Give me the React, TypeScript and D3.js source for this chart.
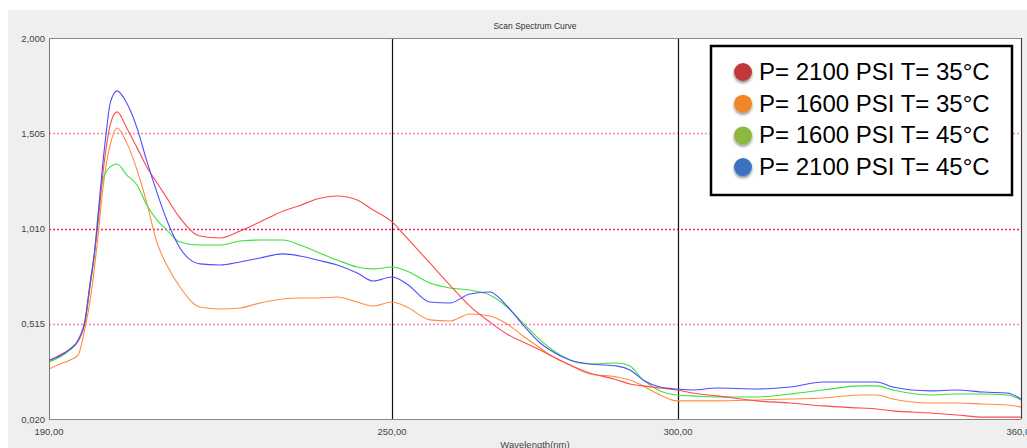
import React from "react";
import * as d3 from "d3";

const wavelengths = [190.0, 191.9, 193.7, 195.1, 196.3, 197.2, 197.9, 198.6, 199.3, 200.0, 200.7, 201.9, 203.6, 205.4, 207.1, 208.9, 210.6, 212.9, 216.4, 219.9, 223.4, 226.9, 230.9, 233.9, 236.9, 240.4, 243.9, 246.7, 250.0, 252.6, 256.6, 260.1, 263.6, 267.1, 270.1, 272.9, 275.9, 277.6, 281.1, 284.6, 289.4, 291.6, 293.9, 296.9, 299.8, 302.6, 306.8, 313.8, 319.6, 325.4, 331.9, 334.8, 337.6, 344.1, 348.8, 353.4, 357.6, 360.0];

const red35_2100 = [0.321, 0.353, 0.384, 0.425, 0.524, 0.716, 0.872, 1.044, 1.262, 1.429, 1.548, 1.616, 1.532, 1.429, 1.330, 1.247, 1.169, 1.065, 0.971, 0.961, 0.997, 1.044, 1.100, 1.130, 1.163, 1.179, 1.158, 1.106, 1.044, 0.961, 0.831, 0.716, 0.607, 0.524, 0.462, 0.420, 0.379, 0.353, 0.301, 0.259, 0.223, 0.202, 0.192, 0.181, 0.171, 0.155, 0.140, 0.114, 0.103, 0.088, 0.077, 0.072, 0.062, 0.051, 0.041, 0.030, 0.030, 0.030];

const orange35_1600 = [0.280, 0.306, 0.327, 0.353, 0.493, 0.638, 0.794, 0.976, 1.184, 1.340, 1.444, 1.532, 1.455, 1.314, 1.143, 0.935, 0.820, 0.706, 0.602, 0.592, 0.597, 0.623, 0.644, 0.649, 0.649, 0.654, 0.628, 0.607, 0.628, 0.602, 0.535, 0.529, 0.566, 0.555, 0.514, 0.451, 0.389, 0.353, 0.301, 0.254, 0.238, 0.223, 0.192, 0.145, 0.114, 0.114, 0.114, 0.119, 0.124, 0.129, 0.145, 0.145, 0.124, 0.103, 0.103, 0.098, 0.093, 0.082];

const green45_1600 = [0.316, 0.342, 0.379, 0.425, 0.524, 0.716, 0.857, 1.091, 1.247, 1.304, 1.330, 1.345, 1.288, 1.236, 1.132, 1.054, 1.002, 0.940, 0.924, 0.924, 0.945, 0.950, 0.950, 0.924, 0.888, 0.846, 0.810, 0.800, 0.810, 0.789, 0.727, 0.701, 0.690, 0.664, 0.602, 0.519, 0.431, 0.389, 0.327, 0.306, 0.311, 0.295, 0.223, 0.166, 0.145, 0.140, 0.134, 0.134, 0.150, 0.171, 0.192, 0.192, 0.171, 0.145, 0.150, 0.150, 0.145, 0.119];

const blue45_2100 = [0.327, 0.347, 0.384, 0.431, 0.535, 0.732, 0.872, 1.080, 1.314, 1.506, 1.662, 1.725, 1.662, 1.532, 1.361, 1.195, 1.054, 0.909, 0.826, 0.820, 0.836, 0.857, 0.878, 0.867, 0.846, 0.820, 0.779, 0.737, 0.758, 0.722, 0.628, 0.623, 0.670, 0.680, 0.607, 0.509, 0.415, 0.379, 0.327, 0.306, 0.295, 0.275, 0.223, 0.186, 0.176, 0.171, 0.181, 0.176, 0.186, 0.212, 0.212, 0.212, 0.186, 0.166, 0.171, 0.160, 0.155, 0.124];

const seriesNames = ["P= 2100 PSI T= 35°C", "P= 1600 PSI T= 35°C", "P= 1600 PSI T= 45°C", "P= 2100 PSI T= 45°C"];
const lineColors = ["#ff4a4a", "#ff8c42", "#3de03d", "#4d4dff"];
const dotColors = ["#c0393b", "#f0862a", "#8cb83e", "#3a72c0"];

const xTicks = [190, 250, 300, 360];
const xTickLabels = ["190,00", "250,00", "300,00", "360,00"];
const yTicks = [0.02, 0.515, 1.01, 1.505, 2.0];
const yTickLabels = ["0,020", "0,515", "1,010", "1,505", "2,000"];

export default function App() {
  const W = 1027, H = 448;
  const left = 49, right = 1021, top = 38, bottom = 419;
  const x = d3.scaleLinear().domain([190, 360]).range([left, right]);
  const y = d3.scaleLinear().domain([0.02, 2.0]).range([bottom, top]);
  const allSeries = [red35_2100, orange35_1600, green45_1600, blue45_2100];
  const line = d3.line<number>()
    .x((_, i) => x(wavelengths[i]))
    .y((d) => y(d))
    .curve(d3.curveMonotoneX);
  const drawOrder = [1, 2, 0, 3];
  const font = "'Liberation Sans', Arial, sans-serif";

  return (
    <svg width={W} height={H} style={{ position: "absolute", left: 0, top: 0, display: "block" }} fontFamily={font}>
      <rect x={0} y={0} width={W} height={H} fill="#ffffff" />
      <rect x={8} y={10} width={W - 8} height={H - 10} fill="#efefef" />
      <text x={535} y={29} textAnchor="middle" fontSize={8.5} fill="#333">Scan Spectrum Curve</text>
      <rect x={left} y={top} width={right - left} height={bottom - top} fill="#ffffff" />
      {/* horizontal dotted gridlines */}
      {[1.505, 0.515].map((v) => (
        <line key={v} x1={left} x2={right} y1={Math.round(y(v)) + 0.5} y2={Math.round(y(v)) + 0.5} stroke="#ff7fc0" strokeWidth={1.3} strokeDasharray="2,2" />
      ))}
      <line x1={left} x2={right} y1={Math.round(y(1.01)) + 0.5} y2={Math.round(y(1.01)) + 0.5} stroke="#e3206f" strokeWidth={1.3} strokeDasharray="2,2" />
      {/* vertical gridlines */}
      {[250, 300].map((v) => (
        <line key={v} x1={Math.round(x(v)) + 0.5} x2={Math.round(x(v)) + 0.5} y1={top} y2={bottom} stroke="#111" strokeWidth={1.2} />
      ))}
      {drawOrder.map((si) => (
        <path key={si} d={line(allSeries[si]) || ""} fill="none" stroke={lineColors[si]} strokeWidth={1.1} />
      ))}
      {/* frame */}
      <line x1={left + 0.5} x2={left + 0.5} y1={top} y2={bottom} stroke="#777" />
      <line x1={left} x2={right} y1={top + 0.5} y2={top + 0.5} stroke="#888" />
      <line x1={left} x2={right} y1={bottom + 0.5} y2={bottom + 0.5} stroke="#888" />
      <line x1={right + 0.5} x2={right + 0.5} y1={top} y2={bottom} stroke="#444" strokeWidth={1.2} />
      {/* y tick labels */}
      {yTicks.map((v, i) => (
        <text key={v} x={45} y={y(v) + 3.5} textAnchor="end" fontSize={9.5} fill="#444">{yTickLabels[i]}</text>
      ))}
      {/* x tick labels */}
      {xTicks.map((v, i) => (
        <text key={v} x={x(v)} y={435} textAnchor="middle" fontSize={9.5} fill="#444">{xTickLabels[i]}</text>
      ))}
      <text x={535} y={448} textAnchor="middle" fontSize={9.5} fill="#444">Wavelength(nm)</text>
      {/* legend */}
      <defs>
        <filter id="sh" x="-50%" y="-50%" width="200%" height="200%">
          <feDropShadow dx={0} dy={2} stdDeviation={1.5} floodColor="#000" floodOpacity={0.45} />
        </filter>
      </defs>
      <rect x={711} y={46} width={301} height={149} fill="#ffffff" stroke="#000" strokeWidth={2.5} />
      {seriesNames.map((name, i) => {
        const base = 80 + i * 31.7;
        return (
          <g key={name}>
            <circle cx={743} cy={base - 8} r={9} fill={dotColors[i]} filter="url(#sh)" />
            <text x={759} y={base} fontSize={24} fill="#000">{name}</text>
          </g>
        );
      })}
    </svg>
  );
}
